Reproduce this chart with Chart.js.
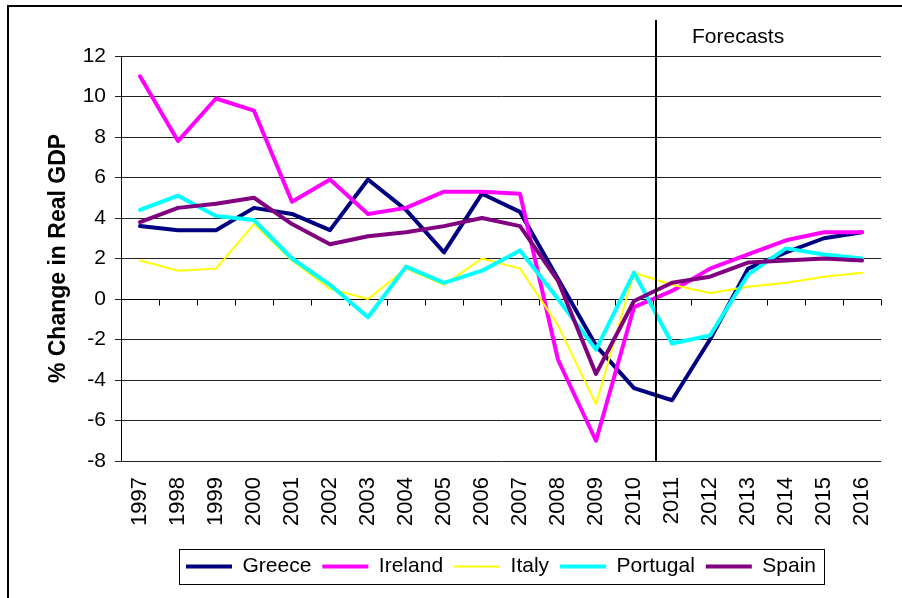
<!DOCTYPE html>
<html>
<head>
<meta charset="utf-8">
<script src="https://cdn.jsdelivr.net/npm/chart.js@4"></script>
<style>
  html, body { margin: 0; padding: 0; background: #fff; }
  canvas { display: block; }
</style>
</head>
<body>
<canvas id="gdpChart" width="902" height="598"></canvas>
<script>
// Real GDP growth, % change per year
const years = ["1997", "1998", "1999", "2000", "2001", "2002", "2003", "2004", "2005", "2006",
               "2007", "2008", "2009", "2010", "2011", "2012", "2013", "2014", "2015", "2016"];
const greece   = [3.6, 3.4, 3.4, 4.5, 4.2, 3.4, 5.9, 4.4, 2.3, 5.2, 4.3, 1.0, -2.3, -4.4, -5.0, -2.0, 1.5, 2.3, 3.0, 3.3];
const ireland  = [11.0, 7.8, 9.9, 9.3, 4.8, 5.9, 4.2, 4.5, 5.3, 5.3, 5.2, -3.0, -7.0, -0.4, 0.4, 1.5, 2.2, 2.9, 3.3, 3.3];
const italy    = [1.9, 1.4, 1.5, 3.7, 1.9, 0.5, 0.0, 1.5, 0.7, 2.0, 1.5, -1.3, -5.2, 1.3, 0.7, 0.3, 0.6, 0.8, 1.1, 1.3];
const portugal = [4.4, 5.1, 4.1, 3.9, 2.0, 0.7, -0.9, 1.6, 0.8, 1.4, 2.4, 0.0, -2.5, 1.3, -2.2, -1.8, 1.2, 2.5, 2.2, 2.0];
const spain    = [3.8, 4.5, 4.7, 5.0, 3.7, 2.7, 3.1, 3.3, 3.6, 4.0, 3.6, 0.9, -3.7, -0.1, 0.8, 1.1, 1.8, 1.9, 2.0, 1.9];

const forecastAt = 13.58; // between 2010 and 2011, in category units
const forecastLabel = "Forecasts";

const FONT = "'Liberation Sans', Arial, sans-serif";
Chart.defaults.font.family = FONT;
Chart.defaults.color = "#000";

// white page + the frame lines at top and left
const framePlugin = {
    id: "frame",
    beforeDraw(chart) {
        const ctx = chart.ctx;
        ctx.save();
        ctx.fillStyle = "#fff";
        ctx.fillRect(0, 0, chart.width, chart.height);
        ctx.fillStyle = "#000";
        ctx.fillRect(7, 5, chart.width - 7, 2);
        ctx.fillRect(7, 5, 2, chart.height - 5);
        ctx.restore();
    }
};

// tick marks on the zero line, between categories
const zeroTicksPlugin = {
    id: "zeroTicks",
    beforeDatasetsDraw(chart) {
        const x = chart.scales.x, y = chart.scales.y;
        const ctx = chart.ctx;
        const y0 = Math.round(y.getPixelForValue(0)) + 0.5;
        ctx.save();
        ctx.strokeStyle = "#000";
        ctx.lineWidth = 1;
        ctx.beginPath();
        ctx.moveTo(x.left, y0);
        ctx.lineTo(x.right, y0);
        for (let i = 0; i <= years.length; i++) {
            const px = Math.round(x.getPixelForValue(i - 0.5)) + 0.5;
            ctx.moveTo(px, y0);
            ctx.lineTo(px, y0 + 6);
        }
        ctx.stroke();
        ctx.restore();
    }
};

// forecast divider, its label and the legend frame
const forecastPlugin = {
    id: "forecast",
    afterDraw(chart) {
        const x = chart.scales.x;
        const ctx = chart.ctx;
        const px = Math.round(x.getPixelForValue(forecastAt));
        ctx.save();
        ctx.fillStyle = "#000";
        ctx.fillRect(px - 1, 20, 2, chart.chartArea.bottom - 20);
        ctx.font = "21px " + FONT;
        ctx.textBaseline = "alphabetic";
        ctx.fillText(forecastLabel, px + 36, 43);

        const boxes = chart.legend.legendHitBoxes;
        if (boxes && boxes.length) {
            const l = Math.min(...boxes.map(b => b.left)) - 7;
            const r = Math.max(...boxes.map(b => b.left + b.width)) + 8;
            const t = boxes[0].top - 7;
            const b = boxes[0].top + boxes[0].height + 7;
            ctx.strokeStyle = "#000";
            ctx.lineWidth = 1;
            ctx.strokeRect(Math.round(l) + 0.5, Math.round(t) + 0.5, Math.round(r - l), Math.round(b - t));
        }
        ctx.restore();
    }
};

function series(label, data, color, width, order) {
    return {
        label: label,
        data: data,
        borderColor: color,
        backgroundColor: color,
        borderWidth: width,
        pointRadius: 0,
        pointHoverRadius: 0,
        borderJoinStyle: "round",
        borderCapStyle: "round",
        tension: 0,
        order: order
    };
}

new Chart(document.getElementById("gdpChart"), {
    type: "line",
    data: {
        labels: years,
        datasets: [
            series("Greece", greece, "#000080", 4, 4),
            series("Ireland", ireland, "#ff00ff", 4, 3),
            series("Italy", italy, "#ffff00", 2, 2),
            series("Portugal", portugal, "#00ffff", 4, 1),
            series("Spain", spain, "#800080", 4, 0)
        ]
    },
    options: {
        responsive: false,
        animation: false,
        devicePixelRatio: 1,
        layout: { padding: { top: 56, right: 21, bottom: 11, left: 0 } },
        plugins: {
            legend: {
                position: "bottom",
                fullSize: false,
                labels: {
                    usePointStyle: true,
                    pointStyle: "line",
                    pointStyleWidth: 46,
                    padding: 11,
                    font: { size: 21 },
                    color: "#000",
                    sort: (a, b) => a.datasetIndex - b.datasetIndex
                }
            },
            tooltip: { enabled: false }
        },
        scales: {
            x: {
                type: "category",
                offset: true,
                grid: { drawOnChartArea: false, drawTicks: false },
                border: { display: false },
                ticks: {
                    minRotation: 90,
                    maxRotation: 90,
                    padding: 16,
                    autoSkip: false,
                    font: { size: 22, family: "'Liberation Sans Narrow', 'Arial Narrow', " + FONT }
                },
                afterFit: s => {
                    s.height = 84;
                    s.paddingLeft = 0;
                    s.paddingRight = 0;
                }
            },
            y: {
                min: -8,
                max: 12,
                ticks: { stepSize: 2, padding: 9, font: { size: 21 } },
                grid: { color: "#222", lineWidth: 1, tickLength: 6 },
                border: { display: true, color: "#000", width: 1 },
                title: {
                    display: true,
                    text: "% Change in Real GDP",
                    font: { size: 23, weight: "bold" },
                    padding: { top: 45, bottom: 0 }
                },
                afterFit: s => { s.width = 121; }
            }
        }
    },
    plugins: [framePlugin, zeroTicksPlugin, forecastPlugin]
});
</script>
</body>
</html>
